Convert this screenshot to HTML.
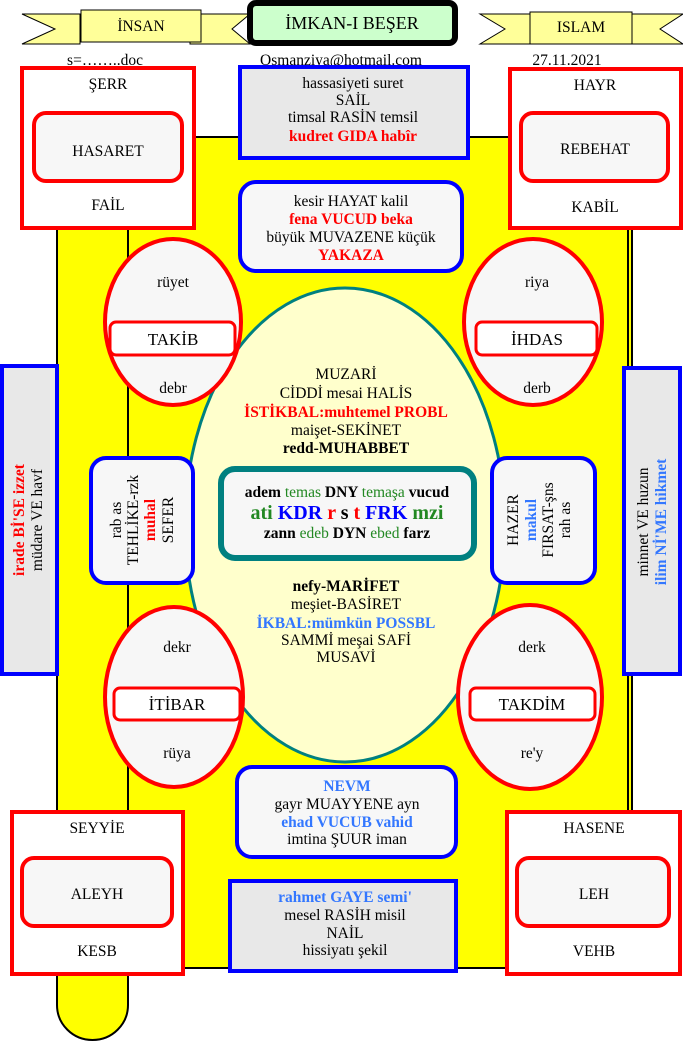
<!DOCTYPE html>
<html><head><meta charset="utf-8"><style>
html,body{margin:0;padding:0;background:#fff}
svg{display:block}
text{font-family:"Liberation Serif",serif;font-size:15.5px;fill:#000}
.b{font-weight:bold}
.r{fill:#ff0000}
.bl{fill:#3377ff}
.g{fill:#228822}
</style></head><body>
<svg width="683" height="1042" viewBox="0 0 683 1042" xmlns="http://www.w3.org/2000/svg">
<rect x="57" y="137" width="575" height="831" fill="#ffff00" stroke="#000" stroke-width="2"/>
<path d="M57 225 H128 V1005 A35.5 35 0 0 1 57 1005 Z" fill="#ffff00" stroke="#000" stroke-width="2"/>
<line x1="628" y1="137" x2="628" y2="968" stroke="#000" stroke-width="2"/>

<polygon points="22,14 80,14 80,44 22,44 55,29" fill="#ffff99" stroke="#000"/>
<polygon points="190,14 250,14 232,29 250,44 190,44" fill="#ffff99" stroke="#000"/>
<rect x="81" y="10" width="120" height="32" fill="#ffff99" stroke="#000"/>
<text x="141" y="31" text-anchor="middle">İNSAN</text>
<polygon points="480,14 535,14 535,44 480,44 505,29" fill="#ffff99" stroke="#000"/>
<polygon points="630,14 683,14 660,29 683,44 630,44" fill="#ffff99" stroke="#000"/>
<rect x="530" y="12" width="102" height="32" fill="#ffff99" stroke="#000"/>
<text x="581" y="32" text-anchor="middle">ISLAM</text>

<rect x="250" y="3" width="205" height="40" rx="6" fill="#ccffcc" stroke="#000" stroke-width="6"/>
<text x="352" y="29" text-anchor="middle" style="font-size:18px">İMKAN-I BEŞER</text>

<text x="105" y="65" text-anchor="middle">s=……..doc</text>
<text x="341" y="65" text-anchor="middle">Osmanziya@hotmail.com</text>
<text x="567" y="65" text-anchor="middle">27.11.2021</text>

<rect x="22" y="68" width="172" height="160" fill="#fff" stroke="#f00" stroke-width="4"/>
<rect x="34" y="113" width="148" height="68" rx="12" fill="#f7f7f7" stroke="#f00" stroke-width="4"/>
<text x="108" y="89" text-anchor="middle">ŞERR</text>
<text x="108" y="156" text-anchor="middle">HASARET</text>
<text x="108" y="210" text-anchor="middle">FAİL</text>
<rect x="510" y="69" width="171" height="159" fill="#fff" stroke="#f00" stroke-width="4"/>
<rect x="521" y="113" width="147" height="68" rx="12" fill="#f7f7f7" stroke="#f00" stroke-width="4"/>
<text x="595" y="90" text-anchor="middle">HAYR</text>
<text x="595" y="154" text-anchor="middle">REBEHAT</text>
<text x="595" y="212" text-anchor="middle">KABİL</text>

<rect x="240" y="67" width="228" height="91" fill="#e8e8e8" stroke="#00f" stroke-width="4"/>
<text x="353" y="88" text-anchor="middle">hassasiyeti suret</text>
<text x="353" y="105" text-anchor="middle">SAİL</text>
<text x="353" y="122" text-anchor="middle">timsal RASİN temsil</text>
<text x="353" y="141" text-anchor="middle" class="b r">kudret GIDA habîr</text>
<rect x="240" y="182" width="222" height="89" rx="16" fill="#f7f7f7" stroke="#00f" stroke-width="4"/>
<text x="351" y="206" text-anchor="middle">kesir HAYAT kalil</text>
<text x="351" y="224" text-anchor="middle" class="b r">fena VUCUD beka</text>
<text x="351" y="242" text-anchor="middle">büyük MUVAZENE küçük</text>
<text x="351" y="260" text-anchor="middle" class="b r">YAKAZA</text>

<rect x="2" y="366" width="55" height="308" fill="#e8e8e8" stroke="#00f" stroke-width="4"/>
<text transform="translate(24,520) rotate(-90)" text-anchor="middle" class="b r">irade Bİ'SE izzet</text>
<text transform="translate(42,520) rotate(-90)" text-anchor="middle">müdare VE havf</text>
<rect x="624" y="368" width="56" height="306" fill="#e8e8e8" stroke="#00f" stroke-width="4"/>
<text transform="translate(648,522) rotate(-90)" text-anchor="middle">minnet VE huzun</text>
<text transform="translate(666,522) rotate(-90)" text-anchor="middle" class="b bl">ilim Nİ'ME hikmet</text>

<ellipse cx="345" cy="525" rx="160" ry="237" fill="#ffffcc" stroke="#008080" stroke-width="3"/>

<g fill="#f7f7f7" stroke="#f00" stroke-width="4">
<ellipse cx="173" cy="322" rx="68" ry="83"/>
<ellipse cx="533" cy="322" rx="69" ry="83"/>
<ellipse cx="174" cy="697" rx="69" ry="90"/>
<ellipse cx="530" cy="697" rx="72" ry="92"/>
</g>
<g fill="#fff" stroke="#f00" stroke-width="3">
<rect x="110" y="322" width="125" height="33" rx="6"/>
<rect x="476" y="322" width="121" height="33" rx="6"/>
<rect x="114" y="688" width="126" height="32" rx="6"/>
<rect x="470" y="688" width="125" height="32" rx="6"/>
</g>
<text x="173" y="287" text-anchor="middle">rüyet</text>
<text x="173" y="345" text-anchor="middle" style="font-size:17px">TAKİB</text>
<text x="173" y="393" text-anchor="middle">debr</text>
<text x="537" y="287" text-anchor="middle">riya</text>
<text x="537" y="345" text-anchor="middle" style="font-size:17px">İHDAS</text>
<text x="537" y="393" text-anchor="middle">derb</text>
<text x="177" y="652" text-anchor="middle">dekr</text>
<text x="177" y="710" text-anchor="middle" style="font-size:17px">İTİBAR</text>
<text x="177" y="758" text-anchor="middle">rüya</text>
<text x="532" y="652" text-anchor="middle">derk</text>
<text x="532" y="710" text-anchor="middle" style="font-size:17px">TAKDİM</text>
<text x="532" y="758" text-anchor="middle">re'y</text>

<text x="346" y="379" text-anchor="middle">MUZARİ</text>
<text x="346" y="398" text-anchor="middle">CİDDİ mesai HALİS</text>
<text x="346" y="417" text-anchor="middle" class="b r">İSTİKBAL:muhtemel PROBL</text>
<text x="346" y="435" text-anchor="middle">maişet-SEKİNET</text>
<text x="346" y="453" text-anchor="middle" class="b">redd-MUHABBET</text>

<rect x="221" y="469" width="253" height="89" rx="14" fill="#f7f7f7" stroke="#008080" stroke-width="6"/>
<text x="347" y="497" text-anchor="middle"><tspan class="b">adem </tspan><tspan class="g">temas </tspan><tspan class="b"> DNY </tspan><tspan class="g">temaşa </tspan><tspan class="b">vucud</tspan></text>
<text x="347" y="519" text-anchor="middle" style="font-size:20px;font-weight:bold"><tspan class="g" style="font-size:20px">ati </tspan><tspan style="fill:#0000ff;font-size:20px">KDR </tspan><tspan class="r" style="font-size:20px">r </tspan><tspan style="font-size:20px">s </tspan><tspan class="r" style="font-size:20px">t </tspan><tspan style="fill:#0000ff;font-size:20px">FRK </tspan><tspan class="g" style="font-size:20px">mzi</tspan></text>
<text x="347" y="538" text-anchor="middle"><tspan class="b">zann </tspan><tspan class="g">edeb </tspan><tspan class="b"> DYN  </tspan><tspan class="g"> ebed </tspan><tspan class="b">farz</tspan></text>

<text x="346" y="591" text-anchor="middle" class="b">nefy-MARİFET</text>
<text x="346" y="609" text-anchor="middle">meşiet-BASİRET</text>
<text x="346" y="628" text-anchor="middle" class="b bl">İKBAL:mümkün POSSBL</text>
<text x="346" y="645" text-anchor="middle">SAMMİ meşai SAFİ</text>
<text x="346" y="662" text-anchor="middle">MUSAVİ</text>

<rect x="91" y="458" width="102" height="125" rx="15" fill="#f7f7f7" stroke="#00f" stroke-width="4"/>
<text transform="translate(121,520) rotate(-90)" text-anchor="middle">rab as</text>
<text transform="translate(138,520) rotate(-90)" text-anchor="middle">TEHLİKE-rzk</text>
<text transform="translate(155,520) rotate(-90)" text-anchor="middle" class="b r">muhal</text>
<text transform="translate(173,520) rotate(-90)" text-anchor="middle">SEFER</text>
<rect x="492" y="458" width="103" height="125" rx="15" fill="#f7f7f7" stroke="#00f" stroke-width="4"/>
<text transform="translate(518,520) rotate(-90)" text-anchor="middle">HAZER</text>
<text transform="translate(536,520) rotate(-90)" text-anchor="middle" class="b bl">makul</text>
<text transform="translate(553,520) rotate(-90)" text-anchor="middle">FIRSAT-şns</text>
<text transform="translate(570,520) rotate(-90)" text-anchor="middle">rah as</text>

<rect x="237" y="767" width="219" height="90" rx="15" fill="#f7f7f7" stroke="#00f" stroke-width="4"/>
<text x="347" y="791" text-anchor="middle" class="b bl">NEVM</text>
<text x="347" y="809" text-anchor="middle">gayr MUAYYENE ayn</text>
<text x="347" y="827" text-anchor="middle" class="b bl">ehad VUCUB vahid</text>
<text x="347" y="844" text-anchor="middle">imtina  ŞUUR iman</text>
<rect x="230" y="881" width="226" height="90" fill="#e8e8e8" stroke="#00f" stroke-width="4"/>
<text x="345" y="902" text-anchor="middle" class="b bl">rahmet GAYE semi'</text>
<text x="345" y="920" text-anchor="middle">mesel RASİH  misil</text>
<text x="345" y="938" text-anchor="middle">NAİL</text>
<text x="345" y="955" text-anchor="middle">hissiyatı  şekil</text>

<rect x="12" y="812" width="171" height="162" fill="#fff" stroke="#f00" stroke-width="4"/>
<rect x="22" y="858" width="150" height="68" rx="12" fill="#f7f7f7" stroke="#f00" stroke-width="4"/>
<text x="97" y="833" text-anchor="middle">SEYYİE</text>
<text x="97" y="899" text-anchor="middle">ALEYH</text>
<text x="97" y="956" text-anchor="middle">KESB</text>
<rect x="507" y="812" width="173" height="162" fill="#fff" stroke="#f00" stroke-width="4"/>
<rect x="517" y="858" width="152" height="68" rx="12" fill="#f7f7f7" stroke="#f00" stroke-width="4"/>
<text x="594" y="833" text-anchor="middle">HASENE</text>
<text x="594" y="899" text-anchor="middle">LEH</text>
<text x="594" y="956" text-anchor="middle">VEHB</text>
</svg>
</body></html>
